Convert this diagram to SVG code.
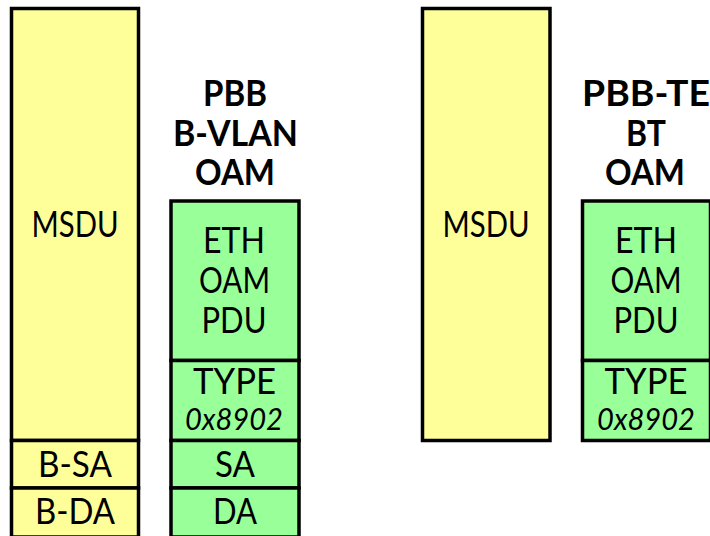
<svg xmlns="http://www.w3.org/2000/svg" width="710" height="536" viewBox="0 0 710 536">
<style>
.y{fill:#FFFF99;stroke:#000;stroke-width:3.5}
.g{fill:#99FF99;stroke:#000;stroke-width:3.5}
text{font-family:Lato,"DejaVu Sans",sans-serif;font-size:37px;fill:#000;text-anchor:middle}
.b{font-weight:bold;font-size:36px}
.i{font-style:italic;font-size:30px}
</style>
<rect width="710" height="536" fill="#fff"/>
<g id="left-msdu">
<rect class="y" x="11.5" y="8.5" width="127" height="432"/>
<text x="75" y="237" textLength="87" lengthAdjust="spacingAndGlyphs">MSDU</text>
</g>
<g id="left-bsa">
<rect class="y" x="11.5" y="440.5" width="127" height="47.5"/>
<text x="75" y="477" textLength="74" lengthAdjust="spacingAndGlyphs">B-SA</text>
</g>
<g id="left-bda">
<rect class="y" x="11.5" y="488" width="127" height="49"/>
<text x="75" y="524" textLength="80" lengthAdjust="spacingAndGlyphs">B-DA</text>
</g>
<g id="title-left">
<text class="b" x="235" y="106" textLength="64" lengthAdjust="spacingAndGlyphs">PBB</text>
<text class="b" x="235.5" y="146" textLength="125" lengthAdjust="spacingAndGlyphs">B-VLAN</text>
<text class="b" x="235" y="185" textLength="80" lengthAdjust="spacingAndGlyphs">OAM</text>
</g>
<g id="left-pdu">
<rect class="g" x="171" y="201" width="128" height="159.5"/>
<text x="234" y="253" textLength="62" lengthAdjust="spacingAndGlyphs">ETH</text>
<text x="234.5" y="293" textLength="71" lengthAdjust="spacingAndGlyphs">OAM</text>
<text x="234" y="333" textLength="65" lengthAdjust="spacingAndGlyphs">PDU</text>
</g>
<g id="left-type">
<rect class="g" x="171" y="360.5" width="128" height="80"/>
<text x="234.5" y="394" textLength="83" lengthAdjust="spacingAndGlyphs">TYPE</text>
<text class="i" x="234" y="430" textLength="98" lengthAdjust="spacingAndGlyphs">0x8902</text>
</g>
<g id="left-sa">
<rect class="g" x="171" y="440.5" width="128" height="47.5"/>
<text x="235" y="477" textLength="40" lengthAdjust="spacingAndGlyphs">SA</text>
</g>
<g id="left-da">
<rect class="g" x="171" y="488" width="128" height="49"/>
<text x="235" y="524" textLength="44" lengthAdjust="spacingAndGlyphs">DA</text>
</g>
<g id="right-msdu">
<rect class="y" x="422.5" y="8.5" width="127.5" height="432"/>
<text x="486" y="237" textLength="87" lengthAdjust="spacingAndGlyphs">MSDU</text>
</g>
<g id="title-right">
<text class="b" x="646" y="106" textLength="128" lengthAdjust="spacingAndGlyphs">PBB-TE</text>
<text class="b" x="646" y="146" textLength="40" lengthAdjust="spacingAndGlyphs">BT</text>
<text class="b" x="645" y="185" textLength="80" lengthAdjust="spacingAndGlyphs">OAM</text>
</g>
<g id="right-pdu">
<rect class="g" x="582.5" y="201" width="128" height="159.5"/>
<text x="646" y="253" textLength="62" lengthAdjust="spacingAndGlyphs">ETH</text>
<text x="646" y="293" textLength="71" lengthAdjust="spacingAndGlyphs">OAM</text>
<text x="646" y="333" textLength="65" lengthAdjust="spacingAndGlyphs">PDU</text>
</g>
<g id="right-type">
<rect class="g" x="582.5" y="360.5" width="128" height="80"/>
<text x="646" y="394" textLength="83" lengthAdjust="spacingAndGlyphs">TYPE</text>
<text class="i" x="646" y="430" textLength="98" lengthAdjust="spacingAndGlyphs">0x8902</text>
</g>
<g id="connectors"></g>
</svg>
